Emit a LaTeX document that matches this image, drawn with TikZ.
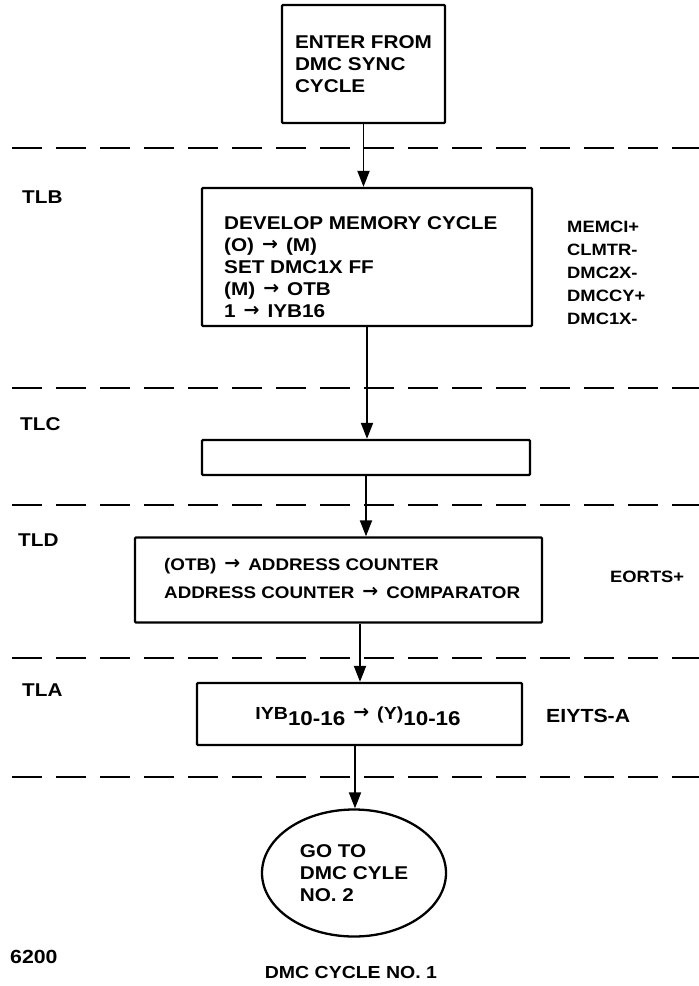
\documentclass[tikz,border=0pt]{standalone}
\usepackage{fontspec}
\setmainfont[FakeStretch=1.12]{Liberation Sans}
\newfontfamily\arrowfont{DejaVu Sans}
\newcommand\ra{\hspace{8pt}\raisebox{0.5pt}{\arrowfont\bfseries\fontsize{19}{22}\selectfont →}\hspace{8pt}}
\usetikzlibrary{arrows.meta,shapes.geometric}
\begin{document}
\begin{tikzpicture}[x=1pt,y=-1pt,
  font=\fontsize{18.5}{22}\selectfont\bfseries,
  box/.style={draw, line width=2.3pt, rounded corners=1pt, inner sep=0pt},
  txt/.style={inner sep=0pt, align=left},
  lbl/.style={inner sep=0pt, anchor=west, align=left},
  sep/.style={line width=2.3pt, dash pattern=on 30pt off 14pt},
  arr/.style={line width=1.9pt, -{Triangle[width=12pt,length=16pt]}}]
\useasboundingbox[fill=white] (0,0) rectangle (699,986);

% separators
\foreach \yy in {148,388,505,658,777} \draw[sep] (12,\yy) -- (699,\yy);

% phase labels
\node[lbl] (tlb) at (22,197) {TLB};
\node[lbl] (tlc) at (20,424) {TLC};
\node[lbl] (tld) at (18,540) {TLD};
\node[lbl] (tla) at (22,690) {TLA};

% box 1
\node[box, minimum width=163pt, minimum height=118pt, align=left] (enter) at (363.5,64)
  {ENTER FROM\\DMC SYNC\\CYCLE};

% box 2
\node[box, minimum width=330pt, minimum height=138pt] (dev) at (367,257) {};
\node[txt, anchor=north west] (devt) at (224,216)
  {DEVELOP MEMORY CYCLE\\(O)\ra(M)\\SET DMC1X FF\\(M)\ra OTB\\1\ra IYB16};
\node[lbl, anchor=north west, align=left, font=\fontsize{16.4}{23}\selectfont\bfseries] (sig1) at (567,221)
  {MEMCI+\\CLMTR-\\DMC2X-\\DMCCY+\\DMC1X-};

% box 3
\node[box, minimum width=328pt, minimum height=35pt] (b3) at (366,457.5) {};

% box 4
\node[box, minimum width=407pt, minimum height=85pt] (b4) at (338.5,580) {};
\node[txt, anchor=west, font=\fontsize{16.8}{28}\selectfont\bfseries] (b4t) at (164,578)
  {(OTB)\ra ADDRESS COUNTER\\ADDRESS COUNTER\ra COMPARATOR};
\node[lbl, font=\fontsize{16.4}{22}\selectfont\bfseries] (sig2) at (610,577) {EORTS+};

% box 5
\node[box, minimum width=325pt, minimum height=62pt] (b5) at (359.5,714) {};
\node[txt] (b5t) at (358,716)
  {{\fontsize{17.5}{22}\selectfont IYB}\raisebox{-6pt}{\fontsize{20}{22}\selectfont 10-16}\ra{\fontsize{17.5}{22}\selectfont(Y)}\raisebox{-6pt}{\fontsize{20}{22}\selectfont 10-16}};
\node[lbl, font=\fontsize{19}{22}\selectfont\bfseries] (sig3) at (546,716) {EIYTS-A};

% ellipse
\node[ellipse, draw, line width=2.3pt, minimum width=184pt, minimum height=127pt, inner sep=0pt, align=left] (goto) at (354,873)
  {GO TO\\DMC CYLE\\NO. 2};

% footer
\node[lbl, font=\fontsize{19}{22}\selectfont\bfseries] (num) at (10,957) {6200};
\node[txt, font=\fontsize{17.4}{22}\selectfont\bfseries] (title) at (351,972) {DMC CYCLE NO. 1};

% connectors
\draw[arr] (enter.south) -- (enter.south |- dev.north);
\draw[arr] (dev.south) -- (dev.south |- b3.north);
\draw[arr] (b3.south) -- (b3.south |- b4.north);
\draw[arr] ([xshift=21.5pt]b4.south) -- ([xshift=21.5pt]b4.south |- b5.north);
\draw[arr] ([xshift=-4.5pt]b5.south) -- ([xshift=-4.5pt]b5.south |- goto.north);
\end{tikzpicture}
\end{document}
